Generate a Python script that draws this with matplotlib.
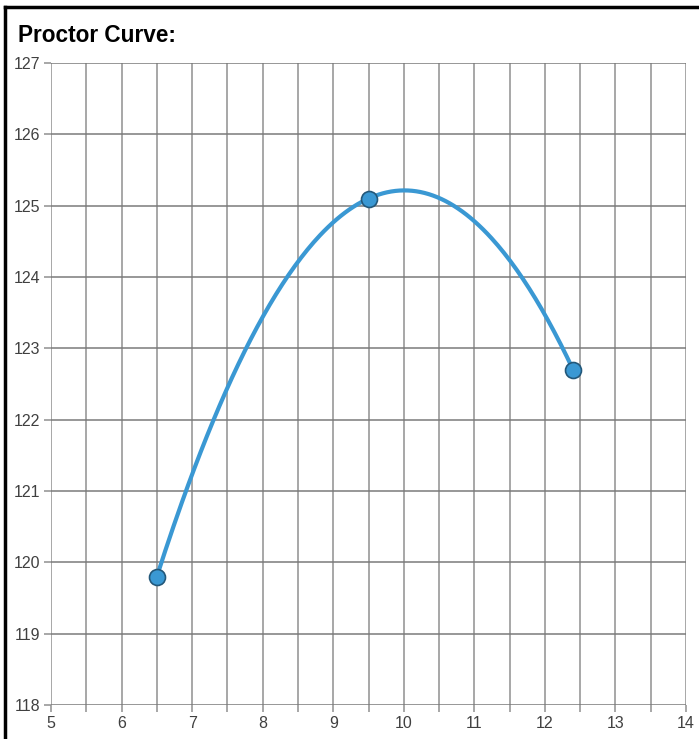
import numpy as np
import matplotlib
matplotlib.use("Agg")
import matplotlib.pyplot as plt
from matplotlib.lines import Line2D
from matplotlib.ticker import MultipleLocator

# Proctor test points: moisture content (%) vs dry density
moisture = [6.5, 9.5, 12.4]
density = [119.8, 125.1, 122.7]
x_ticks = [5, 6, 7, 8, 9, 10, 11, 12, 13, 14]
y_ticks = [118, 119, 120, 121, 122, 123, 124, 125, 126, 127]

plt.rcParams['font.family'] = ['Liberation Sans', 'DejaVu Sans']

fig = plt.figure(figsize=(6.99, 7.39), dpi=100)
ax = fig.add_axes([51 / 699, 34 / 739, 635 / 699, 642 / 739])

# smooth curve: quadratic through the three points
coef = np.polyfit(moisture, density, 2)
xs = np.linspace(min(moisture), max(moisture), 200)
ax.plot(xs, np.polyval(coef, xs), color='#3a98d3', lw=3, zorder=3)
ax.plot(moisture, density, 'o', ms=11.5, mfc='#3a98d3', mec='#23587a',
        mew=1.2, zorder=4, clip_on=False)

ax.set_xlim(x_ticks[0], x_ticks[-1])
ax.set_ylim(y_ticks[0], y_ticks[-1])
ax.set_xticks(x_ticks)
ax.set_yticks(y_ticks)
ax.xaxis.set_minor_locator(MultipleLocator(0.5))

grid_col = '#8f8f8f'
ax.grid(True, which='both', axis='x', color=grid_col, lw=1.1)
ax.grid(True, which='major', axis='y', color='#7a7a7a', lw=1.1)
for s in ax.spines.values():
    s.set_visible(False)
ax.tick_params(axis='both', which='both', length=5, width=1.1, color=grid_col,
               labelsize=11.5, labelcolor='#404040')
ax.tick_params(axis='x', pad=3)
ax.tick_params(axis='y', pad=3)

fig.text(18 / 699, 1 - 35 / 739, 'Proctor Curve:', fontsize=16.3,
         fontweight='bold', va='center', ha='left')

# outer frame (left and top edges only are visible)
fig.add_artist(Line2D([4.5 / 699, 4.5 / 699], [0, 1 - 7 / 739],
                      transform=fig.transFigure, color='black', lw=2.5))
fig.add_artist(Line2D([4.5 / 699, 1], [1 - 7 / 739, 1 - 7 / 739],
                      transform=fig.transFigure, color='black', lw=2.5))

fig.savefig('out.png', dpi=100)
